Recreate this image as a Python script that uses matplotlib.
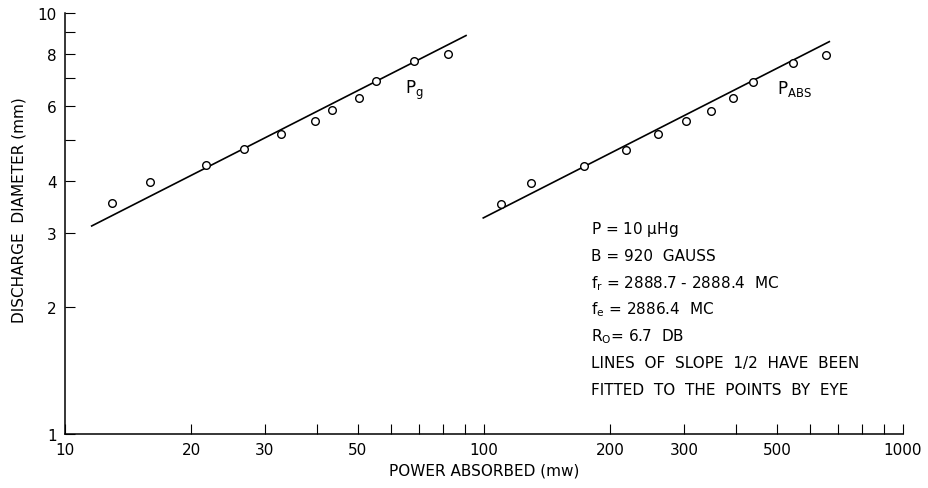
import matplotlib
matplotlib.use("Agg")
import matplotlib.pyplot as plt
from matplotlib.ticker import FixedLocator, NullFormatter, FixedFormatter

plt.rcParams['font.family'] = ['DejaVu Sans']

# Data: P_g series (generator power)
pg_x = [12.97, 15.93, 21.7, 26.7, 32.7, 39.5, 43.4, 50.2, 55.1, 67.9, 82.2]
pg_y = [3.53, 3.96, 4.36, 4.76, 5.16, 5.55, 5.88, 6.28, 6.90, 7.69, 7.98]
pg_line_x = [11.58, 90.6]
pg_line_y = [3.12, 8.84]

# Data: P_ABS series (absorbed power)
pabs_x = [109.6, 129.3, 173.0, 217.8, 260.6, 303.0, 348.3, 392.3, 438.5, 545.6, 656.0]
pabs_y = [3.52, 3.95, 4.32, 4.73, 5.16, 5.53, 5.84, 6.29, 6.85, 7.62, 7.93]
pabs_line_x = [99.6, 667.0]
pabs_line_y = [3.26, 8.55]

x_major = [10, 20, 30, 50, 100, 200, 300, 500, 1000]
x_major_labels = ['10', '20', '30', '50', '100', '200', '300', '500', '1000']
x_minor = [40, 60, 70, 80, 90, 400, 600, 700, 800, 900]
y_major = [1, 2, 3, 4, 6, 8, 10]
y_major_labels = ['1', '2', '3', '4', '6', '8', '10']
y_minor = [5, 7, 9]

notes = [
    r'P = 10 $\mathregular{\mu}$Hg',
    'B = 920  GAUSS',
    r'f$_{\mathregular{r}}$ = 2888.7 - 2888.4  MC',
    r'f$_{\mathregular{e}}$ = 2886.4  MC',
    r'R$_{\mathregular{O}}$= 6.7  DB',
    'LINES  OF  SLOPE  1/2  HAVE  BEEN',
    'FITTED  TO  THE  POINTS  BY  EYE',
]

fig = plt.figure(figsize=(9.29, 4.89), dpi=100)
ax = fig.add_axes([65/929, 1-435/489, (903-65)/929, (435-14)/489])

ax.set_xscale('log')
ax.set_yscale('log')
ax.set_xlim(10, 1000)
ax.set_ylim(1, 10)

ax.plot(pg_line_x, pg_line_y, color='black', lw=1.2)
ax.plot(pabs_line_x, pabs_line_y, color='black', lw=1.2)
ax.plot(pg_x, pg_y, 'o', mfc='white', mec='black', mew=1.0, ms=5.5, ls='none')
ax.plot(pabs_x, pabs_y, 'o', mfc='white', mec='black', mew=1.0, ms=5.5, ls='none')

for s in ['top', 'right']:
    ax.spines[s].set_visible(False)
for s in ['left', 'bottom']:
    ax.spines[s].set_linewidth(1.1)

ax.xaxis.set_major_locator(FixedLocator(x_major))
ax.xaxis.set_major_formatter(FixedFormatter(x_major_labels))
ax.xaxis.set_minor_locator(FixedLocator(x_minor))
ax.xaxis.set_minor_formatter(NullFormatter())
ax.yaxis.set_major_locator(FixedLocator(y_major))
ax.yaxis.set_major_formatter(FixedFormatter(y_major_labels))
ax.yaxis.set_minor_locator(FixedLocator(y_minor))
ax.yaxis.set_minor_formatter(NullFormatter())

ax.tick_params(which='both', direction='in', length=7, width=0.8, labelsize=11, pad=6)

ax.set_xlabel('POWER ABSORBED (mw)', fontsize=11)
ax.xaxis.set_label_coords(0.5, (435 - 464) / 421)
ax.set_ylabel('DISCHARGE  DIAMETER (mm)', fontsize=11)
ax.yaxis.set_label_coords((27 - 65) / 838, (435 - 210) / 421)

ax.text(64.8, 6.6, r'P$_{\mathregular{g}}$', fontsize=12, ha='left', va='center')
ax.text(500, 6.63, r'P$_{\mathregular{ABS}}$', fontsize=12, ha='left', va='center')

x0 = (591 - 65) / 838
y0 = (435 - 230) / 421
dy = 26.7 / 421
for i, t in enumerate(notes):
    ax.text(x0, y0 - i * dy, t, transform=ax.transAxes, fontsize=11,
            ha='left', va='center')

fig.savefig('out.png', dpi=100)
